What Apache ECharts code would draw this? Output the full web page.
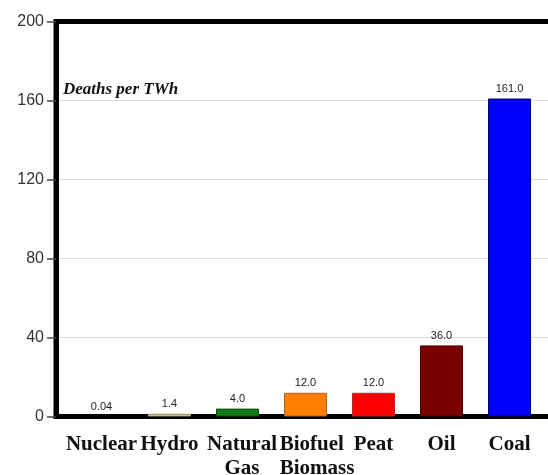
<!DOCTYPE html>
<html>
<head>
<meta charset="utf-8">
<script src="https://cdn.jsdelivr.net/npm/echarts@6/dist/echarts.min.js"></script>
<style>html,body{margin:0;padding:0;background:#fff;}#c{width:548px;height:475px;}</style>
</head>
<body>
<div id="c"></div>
<script>
var categories = ["Nuclear", "Hydro", "Natural\nGas", "Biofuel\nBiomass", "Peat", "Oil", "Coal"];
var deathsPerTWh = [0.04, 1.4, 4.0, 12.0, 12.0, 36.0, 161.0];
var valueLabels = ["0.04", "1.4", "4.0", "12.0", "12.0", "36.0", "161.0"];
var barColors = ["#c9a0dc", "#e6dab0", "#157a15", "#ff8000", "#ff0000", "#7a0000", "#0000ff"];
var barBorders = ["#c9a0dc", "#a89a6a", "#0d4f0d", "#a8622a", "#b02a2a", "#4a0000", "#00007a"];
var yTicks = { min: 0, max: 200, interval: 40 };

var catFont = { fontFamily: 'Liberation Serif', fontWeight: 'bold', fontSize: 21, lineHeight: 24, color: '#111' };
var categoryItems = categories.map(function (c, i) {
  if (i === 2) return { value: c, textStyle: { padding: [0, 0, 0, 9] } };
  if (i === 3) return { value: c, textStyle: { padding: [0, 0, 0, 23] } };
  return c;
});

var chart = echarts.init(document.getElementById('c'), null, { renderer: 'canvas' });
var option = {
  animation: false,
  backgroundColor: '#ffffff',
  title: {
    text: 'Deaths per TWh',
    left: 58, top: 76,
    textStyle: { fontFamily: 'Liberation Serif', fontStyle: 'italic', fontWeight: 'bold', fontSize: 17, color: '#111' }
  },
  grid: [
    { left: 56, width: 540, top: 21.5, bottom: 58.5, outerBoundsMode: 'none', containLabel: false, show: true, borderWidth: 5, borderColor: '#000', backgroundColor: 'transparent' },
    { left: 67.5, width: 476, top: 21.5, bottom: 58.5, outerBoundsMode: 'none', containLabel: false }
  ],
  xAxis: [
    { gridIndex: 0, type: 'value', min: 0, max: 1, axisLabel: { show: false }, axisTick: { show: false }, splitLine: { show: false },
      axisLine: { show: true, lineStyle: { color: '#000', width: 5 } } },
    { gridIndex: 1, type: 'category', data: categoryItems, axisLine: { show: false }, axisTick: { show: false },
      axisLabel: Object.assign({ margin: 16, interval: 0,
        rich: { l: Object.assign({ align: 'left' }, catFont) },
        formatter: function (v) {
          return v === categories[3] ? v.split('\n').map(function (s) { return '{l|' + s + '}'; }).join('\n') : v;
        } }, catFont) }
  ],
  yAxis: [
    { gridIndex: 0, type: 'value', min: yTicks.min, max: yTicks.max, interval: yTicks.interval,
      axisLine: { show: true, lineStyle: { color: '#000', width: 5 } },
      axisTick: { show: true, length: 9, lineStyle: { color: '#444', width: 1.5 } },
      axisLabel: { margin: 12, fontFamily: 'Liberation Sans', fontSize: 16, color: '#333' },
      splitLine: { show: true, showMinLine: false, showMaxLine: false, lineStyle: { color: '#dcdcdc', width: 1 } } },
    { gridIndex: 1, type: 'value', min: yTicks.min, max: yTicks.max, interval: yTicks.interval, show: false }
  ],
  series: [{
    type: 'bar',
    xAxisIndex: 1, yAxisIndex: 1,
    barWidth: 43,
    z: 3,
    data: deathsPerTWh.map(function (v, i) {
      return { value: v, itemStyle: { color: barColors[i], borderColor: barBorders[i], borderWidth: v < 1 ? 0 : 1 } };
    }),
    label: {
      show: true, position: 'top', distance: 4,
      fontFamily: 'Liberation Sans', fontSize: 11, color: '#222',
      formatter: function (p) { return valueLabels[p.dataIndex]; }
    }
  }]
};
chart.setOption(option);
</script>
</body>
</html>
